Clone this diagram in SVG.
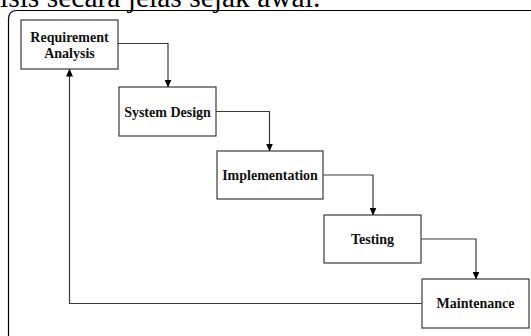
<svg xmlns="http://www.w3.org/2000/svg" width="531" height="336" viewBox="0 0 531 336">
  <style>
    .box { fill: #ffffff; stroke: #3a3a3a; stroke-width: 1.2; }
    .label { font-family: "Liberation Serif", "DejaVu Serif", serif; font-weight: bold; font-size: 14px; fill: #111111; text-anchor: middle; }
    .edge { fill: none; stroke: #3a3a3a; stroke-width: 1.2; }
    .caption { font-family: "Liberation Serif", "Times New Roman", serif; font-size: 29.5px; fill: #000000; }
  </style>
  <defs>
    <marker id="arrow" viewBox="0 0 8 8" refX="7.5" refY="4" markerWidth="8" markerHeight="8" markerUnits="userSpaceOnUse" orient="auto">
      <path d="M0,0.5 L8,4 L0,7.5 Z" fill="#000000"/>
    </marker>
  </defs>

  <rect width="531" height="336" fill="#ffffff"/>

  <!-- caption line above the frame, clipped by the page top -->
  <text class="caption" x="0" y="7">isis secara jelas sejak awal.</text>

  <!-- outer frame with rounded top-left corner -->
  <path d="M8.5,340 L8.5,19 Q8.5,10.5 17,10.5 L535,10.5" fill="none" stroke="#000000" stroke-width="1.2"/>

  <g id="connectors">
    <path class="edge" d="M118,43.5 H168 V87" marker-end="url(#arrow)"/>
    <path class="edge" d="M216,111.5 H269.5 V151" marker-end="url(#arrow)"/>
    <path class="edge" d="M323,175 H373 V215" marker-end="url(#arrow)"/>
    <path class="edge" d="M421,239 H476 V279" marker-end="url(#arrow)"/>
    <path class="edge" d="M422,303.5 H69.5 V69" marker-end="url(#arrow)"/>
  </g>

  <g id="requirement-analysis">
    <rect class="box" x="21" y="20" width="97" height="49"/>
    <text class="label" x="69.5" y="42">Requirement</text>
    <text class="label" x="69.5" y="58">Analysis</text>
  </g>

  <g id="system-design">
    <rect class="box" x="119" y="87" width="97" height="49"/>
    <text class="label" x="167.5" y="116.5">System Design</text>
  </g>

  <g id="implementation">
    <rect class="box" x="217" y="151" width="106" height="48"/>
    <text class="label" x="270" y="180">Implementation</text>
  </g>

  <g id="testing">
    <rect class="box" x="324" y="215" width="97" height="48"/>
    <text class="label" x="372.5" y="244">Testing</text>
  </g>

  <g id="maintenance">
    <rect class="box" x="422" y="279" width="107" height="49"/>
    <text class="label" x="475.5" y="308">Maintenance</text>
  </g>
</svg>
